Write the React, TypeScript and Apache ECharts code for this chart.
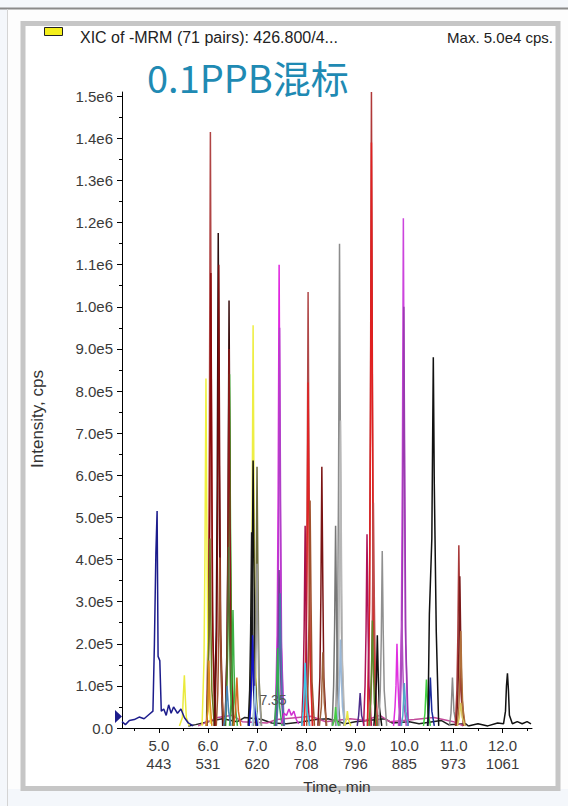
import React, { useEffect, useRef } from "react";
import * as echarts from "echarts";

type Pt = [number, number];

// ---- axis labels ----
const timeLabels = [5, 6, 7, 8, 9, 10, 11, 12];
const scanLabels = ["443", "531", "620", "708", "796", "885", "973", "1061"];
const timeHalfTicks = [4.5, 5.5, 6.5, 7.5, 8.5, 9.5, 10.5, 11.5, 12.5];
const intensityTicks = [0, 1, 2, 3, 4, 5, 6, 7, 8, 9, 10, 11, 12, 13, 14, 15]; // x 1e5 cps
const intensityHalfTicks = [0.5, 1.5, 2.5, 3.5, 4.5, 5.5, 6.5, 7.5, 8.5, 9.5, 10.5, 11.5, 12.5, 13.5, 14.5];

// ---- traces: [time (min), intensity (1e5 cps)] ----
const navyA: Pt[] = [[4.25,0.15],[4.32,0.08],[4.4,0.18],[4.5,0.2],[4.6,0.26],[4.7,0.22],[4.8,0.32],[4.88,0.4],[4.91,2.0],[4.94,4.15],[4.965,5.15],[4.985,1.7],[5.02,1.6],[5.05,0.4],[5.1,0.45],[5.15,0.3],[5.2,0.55],[5.25,0.35],[5.3,0.5],[5.38,0.35],[5.45,0.45],[5.52,0.25],[5.6,0.12],[5.7,0.05]];
const yellowSmall: Pt[] = [[5.42,0.05],[5.48,0.25],[5.5,0.8],[5.52,1.25],[5.54,0.7],[5.56,0.25],[5.62,0.05]];
const yellowA: Pt[] = [[5.88,0.05],[5.92,1.6],[5.94,4.2],[5.96,8.3],[5.98,4.5],[6.0,1.7],[6.05,0.1]];
const brownRedA: Pt[] = [[5.97,0.05],[6.01,2.8],[6.03,7.1],[6.05,14.15],[6.07,7.8],[6.09,2.8],[6.14,0.05]];
const darkRedA: Pt[] = [[5.98,0.05],[6.02,2.2],[6.04,5.4],[6.06,10.8],[6.08,5.9],[6.1,2.2],[6.15,0.05]];
const oliveA: Pt[] = [[5.97,0.05],[6.0,0.9],[6.02,2.3],[6.04,4.5],[6.06,2.5],[6.08,0.9],[6.13,0.05]];
const orangeA: Pt[] = [[5.96,0.05],[6.0,0.4],[6.02,1.6],[6.04,0.7],[6.08,0.05]];
const blackA: Pt[] = [[6.13,0.05],[6.17,2.4],[6.19,5.9],[6.21,11.75],[6.23,6.5],[6.25,2.4],[6.3,0.05]];
const maroonA: Pt[] = [[6.14,0.05],[6.18,2.2],[6.2,5.5],[6.22,11.0],[6.24,6.0],[6.26,2.2],[6.31,0.05]];
const brownA: Pt[] = [[6.17,0.05],[6.2,0.8],[6.22,2.0],[6.24,4.05],[6.26,2.2],[6.28,0.8],[6.33,0.05]];
const darkA: Pt[] = [[6.35,0.05],[6.39,2.0],[6.41,5.1],[6.43,10.15],[6.45,5.6],[6.47,2.0],[6.52,0.05]];
const greenA: Pt[] = [[6.36,0.05],[6.4,1.7],[6.42,4.2],[6.44,8.4],[6.46,4.6],[6.48,1.7],[6.53,0.05]];
const darkRedB: Pt[] = [[6.35,0.05],[6.39,1.8],[6.41,4.5],[6.43,9.0],[6.45,5.0],[6.47,1.8],[6.52,0.05]];
const darkOliveA: Pt[] = [[6.35,0.05],[6.38,0.9],[6.4,2.2],[6.42,4.3],[6.44,2.4],[6.46,0.9],[6.51,0.05]];
const greenB: Pt[] = [[6.44,0.05],[6.47,0.6],[6.49,1.4],[6.51,2.8],[6.53,1.5],[6.55,0.6],[6.6,0.05]];
const steelA: Pt[] = [[6.32,0.05],[6.36,0.3],[6.39,1.0],[6.42,0.4],[6.47,0.05]];
const orangeB: Pt[] = [[6.52,0.05],[6.56,0.35],[6.59,1.2],[6.62,0.4],[6.67,0.05]];
const yellowB: Pt[] = [[6.84,0.05],[6.88,1.9],[6.9,4.8],[6.92,9.56],[6.94,5.2],[6.96,1.9],[7.01,0.05]];
const blackB: Pt[] = [[6.84,0.05],[6.88,1.3],[6.9,3.2],[6.92,6.35],[6.94,3.5],[6.96,1.3],[7.01,0.05]];
const oliveB: Pt[] = [[6.92,0.05],[6.96,1.2],[6.98,3.1],[7.0,6.2],[7.02,3.4],[7.04,1.2],[7.09,0.05]];
const blackC: Pt[] = [[6.82,0.05],[6.85,0.9],[6.87,2.3],[6.89,4.65],[6.91,2.6],[6.93,0.9],[6.98,0.05]];
const grayA: Pt[] = [[6.93,0.05],[6.96,0.8],[6.98,2.0],[7.0,3.9],[7.02,2.1],[7.04,0.8],[7.09,0.05]];
const blueA: Pt[] = [[6.84,0.05],[6.87,0.5],[6.89,1.1],[6.91,2.2],[6.93,1.2],[6.95,0.5],[7.0,0.05]];
const lightBlueA: Pt[] = [[6.9,0.05],[6.93,0.3],[6.96,1.0],[6.99,0.4],[7.04,0.05]];
const magentaA: Pt[] = [[7.37,0.05],[7.41,2.2],[7.43,5.5],[7.45,11.0],[7.47,6.0],[7.49,2.2],[7.54,0.05]];
const purpleA: Pt[] = [[7.38,0.05],[7.42,1.9],[7.44,4.8],[7.46,9.5],[7.48,5.2],[7.5,1.9],[7.55,0.05]];
const purpleB: Pt[] = [[7.38,0.05],[7.41,0.8],[7.43,1.9],[7.45,3.75],[7.47,2.0],[7.49,0.8],[7.54,0.05]];
const steelB: Pt[] = [[7.4,0.05],[7.43,0.7],[7.45,1.6],[7.47,3.2],[7.49,1.7],[7.51,0.7],[7.56,0.05]];
const greenC: Pt[] = [[7.35,0.05],[7.38,0.5],[7.4,1.0],[7.42,1.9],[7.44,1.0],[7.46,0.5],[7.51,0.05]];
const magentaNoise: Pt[] = [[7.5,0.1],[7.55,0.35],[7.6,0.3],[7.65,0.45],[7.7,0.3],[7.75,0.4],[7.8,0.2],[7.85,0.1]];
const crimsonA: Pt[] = [[7.91,0.05],[7.94,1.0],[7.96,2.4],[7.98,4.8],[8.0,2.6],[8.02,1.0],[8.07,0.05]];
const brownRedB: Pt[] = [[7.96,0.05],[8.0,2.1],[8.02,5.2],[8.04,10.35],[8.06,5.7],[8.08,2.1],[8.13,0.05]];
const redA: Pt[] = [[7.96,0.05],[8.0,1.6],[8.02,4.1],[8.04,8.2],[8.06,4.5],[8.08,1.6],[8.13,0.05]];
const brownB: Pt[] = [[8.01,0.05],[8.04,1.1],[8.06,2.7],[8.08,5.4],[8.1,3.0],[8.12,1.1],[8.17,0.05]];
const cyanA: Pt[] = [[7.91,0.05],[7.94,0.4],[7.96,0.8],[7.98,1.55],[8.0,0.8],[8.02,0.4],[8.07,0.05]];
const maroonB: Pt[] = [[8.24,0.05],[8.28,1.2],[8.3,3.1],[8.32,6.2],[8.34,3.4],[8.36,1.2],[8.41,0.05]];
const brownC: Pt[] = [[8.27,0.05],[8.31,0.5],[8.34,1.8],[8.37,0.6],[8.42,0.05]];
const grayB: Pt[] = [[8.6,0.05],[8.64,2.3],[8.66,5.8],[8.68,11.5],[8.7,6.3],[8.72,2.3],[8.77,0.05]];
const grayC: Pt[] = [[8.62,0.05],[8.66,1.5],[8.68,3.7],[8.7,7.3],[8.72,4.0],[8.74,1.5],[8.79,0.05]];
const grayD: Pt[] = [[8.53,0.05],[8.56,1.0],[8.58,2.4],[8.6,4.8],[8.62,2.6],[8.64,1.0],[8.69,0.05]];
const lightSteelA: Pt[] = [[8.63,0.05],[8.66,0.5],[8.68,1.1],[8.7,2.1],[8.72,1.1],[8.74,0.5],[8.79,0.05]];
const greenD: Pt[] = [[8.54,0.05],[8.58,0.2],[8.6,0.5],[8.62,0.2],[8.67,0.05]];
const yellowC: Pt[] = [[8.78,0.05],[8.82,0.2],[8.84,0.4],[8.86,0.2],[8.91,0.05]];
const purpleNavy: Pt[] = [[9.04,0.05],[9.07,0.3],[9.1,0.83],[9.13,0.3],[9.18,0.05]];
const crimsonB: Pt[] = [[9.17,0.05],[9.2,1.0],[9.22,2.3],[9.24,4.6],[9.26,2.5],[9.28,1.0],[9.33,0.05]];
const brownRedC: Pt[] = [[9.25,0.05],[9.29,3.0],[9.31,7.6],[9.33,15.1],[9.35,8.3],[9.37,3.0],[9.42,0.05]];
const redB: Pt[] = [[9.25,0.05],[9.29,2.8],[9.31,7.0],[9.33,13.9],[9.35,7.6],[9.37,2.8],[9.42,0.05]];
const redBrownD: Pt[] = [[9.3,0.05],[9.33,1.1],[9.35,2.7],[9.37,5.35],[9.39,2.9],[9.41,1.1],[9.46,0.05]];
const oliveGreen: Pt[] = [[9.28,0.05],[9.31,0.6],[9.33,1.3],[9.35,2.55],[9.37,1.4],[9.39,0.6],[9.44,0.05]];
const blackD: Pt[] = [[9.38,0.05],[9.41,0.5],[9.43,1.1],[9.45,2.2],[9.47,1.2],[9.49,0.5],[9.54,0.05]];
const grayE: Pt[] = [[9.48,0.05],[9.51,0.9],[9.53,2.1],[9.55,4.2],[9.57,2.3],[9.59,0.9],[9.64,0.05]];
const magentaB: Pt[] = [[9.78,0.05],[9.81,0.5],[9.83,1.0],[9.85,2.0],[9.87,1.1],[9.89,0.5],[9.94,0.05]];
const violetA: Pt[] = [[9.9,0.05],[9.94,2.4],[9.96,6.1],[9.98,12.1],[10.0,6.6],[10.02,2.4],[10.07,0.05]];
const purpleC: Pt[] = [[9.91,0.05],[9.95,2.0],[9.97,5.0],[9.99,10.0],[10.01,5.5],[10.03,2.0],[10.08,0.05]];
const violetB: Pt[] = [[9.88,0.05],[9.91,0.6],[9.93,1.3],[9.95,2.55],[9.97,1.4],[9.99,0.6],[10.04,0.05]];
const cyanB: Pt[] = [[9.94,0.05],[9.97,0.3],[10.0,1.07],[10.03,0.4],[10.08,0.05]];
const greenE: Pt[] = [[10.39,0.05],[10.42,0.35],[10.45,1.15],[10.48,0.4],[10.53,0.05]];
const navyB: Pt[] = [[10.47,0.05],[10.5,0.35],[10.53,1.2],[10.56,0.4],[10.61,0.05]];
const blackE: Pt[] = [[10.48,0.05],[10.51,2.7],[10.56,4.5],[10.59,8.8],[10.61,5.8],[10.65,2.3],[10.7,0.05]];
const grayF: Pt[] = [[10.92,0.05],[10.95,0.35],[10.98,1.2],[11.01,0.4],[11.06,0.05]];
const brownRedE: Pt[] = [[11.04,0.05],[11.07,0.9],[11.09,2.2],[11.11,4.34],[11.13,2.4],[11.15,0.9],[11.2,0.05]];
const darkRedC: Pt[] = [[11.06,0.05],[11.09,0.8],[11.11,1.8],[11.13,3.6],[11.15,2.0],[11.17,0.8],[11.22,0.05]];
const brownD: Pt[] = [[11.08,0.05],[11.11,0.5],[11.13,1.2],[11.15,2.3],[11.17,1.2],[11.19,0.5],[11.24,0.05]];
const tanA: Pt[] = [[11.08,0.05],[11.12,0.25],[11.15,0.6],[11.18,0.25],[11.23,0.05]];
const blackF: Pt[] = [[11.3,0.05],[11.5,0.1],[11.7,0.05],[11.9,0.12],[12.02,0.1],[12.06,0.4],[12.08,1.0],[12.1,1.3],[12.12,0.9],[12.14,0.3],[12.2,0.1],[12.3,0.15],[12.4,0.1],[12.5,0.15],[12.58,0.1]];
const blackBaseline: Pt[] = [[5.6,0.05],[5.75,0.08],[5.9,0.12],[6.1,0.18],[6.3,0.22],[6.6,0.15],[6.75,0.25],[7.1,0.2],[7.3,0.12],[7.6,0.1],[7.9,0.14],[8.2,0.2],[8.45,0.22],[8.8,0.1],[9.0,0.15],[9.6,0.22],[9.75,0.12],[10.1,0.15],[10.3,0.1],[10.75,0.18],[10.9,0.08],[11.25,0.1],[11.3,0.05]];
const colourBaseline: Pt[] = [[5.8,0.05],[6.0,0.15],[6.2,0.25],[6.5,0.3],[6.7,0.15],[7.2,0.12],[7.4,0.2],[8.1,0.28],[8.4,0.15],[8.9,0.22],[9.2,0.18],[9.5,0.3],[9.7,0.15],[10.2,0.2],[10.6,0.25],[11.0,0.15],[11.2,0.05]];

const traces: { data: Pt[]; color: string }[] = [
  { data: blackBaseline, color: "#222222" },
  { data: colourBaseline, color: "#c24a9a" },
  { data: brownRedA, color: "#b04444" },
  { data: darkRedA, color: "#8b0a0a" },
  { data: yellowA, color: "#f0f040" },
  { data: oliveA, color: "#6b7b20" },
  { data: orangeA, color: "#e08a20" },
  { data: blackA, color: "#2a1010" },
  { data: maroonA, color: "#7a0c0c" },
  { data: brownA, color: "#a0522d" },
  { data: darkA, color: "#3a1010" },
  { data: greenA, color: "#22cc22" },
  { data: darkRedB, color: "#8b1a1a" },
  { data: darkOliveA, color: "#556b2f" },
  { data: greenB, color: "#3cb043" },
  { data: steelA, color: "#4682b4" },
  { data: orangeB, color: "#d2691e" },
  { data: yellowB, color: "#eeee44" },
  { data: blackB, color: "#111111" },
  { data: oliveB, color: "#6b6b3a" },
  { data: blackC, color: "#1a1a1a" },
  { data: grayA, color: "#999999" },
  { data: blueA, color: "#1515c8" },
  { data: lightBlueA, color: "#a8d0e8" },
  { data: magentaA, color: "#e026e0" },
  { data: purpleA, color: "#b040c8" },
  { data: purpleB, color: "#7a3a9a" },
  { data: steelB, color: "#4a78a8" },
  { data: greenC, color: "#30b050" },
  { data: magentaNoise, color: "#d030d0" },
  { data: brownRedB, color: "#b04848" },
  { data: redA, color: "#e02424" },
  { data: crimsonA, color: "#a8124a" },
  { data: brownB, color: "#a0522d" },
  { data: cyanA, color: "#3cc8e8" },
  { data: maroonB, color: "#7b1414" },
  { data: brownC, color: "#a0623d" },
  { data: grayB, color: "#8c8c8c" },
  { data: grayC, color: "#b8b8b8" },
  { data: grayD, color: "#777777" },
  { data: lightSteelA, color: "#9ab8d8" },
  { data: greenD, color: "#44cc44" },
  { data: yellowC, color: "#e8e840" },
  { data: purpleNavy, color: "#4b2c8a" },
  { data: brownRedC, color: "#b03838" },
  { data: redB, color: "#e02020" },
  { data: crimsonB, color: "#b0145a" },
  { data: redBrownD, color: "#c04a4a" },
  { data: oliveGreen, color: "#5a8a2a" },
  { data: blackD, color: "#111111" },
  { data: grayE, color: "#909090" },
  { data: magentaB, color: "#e030e0" },
  { data: violetA, color: "#cc44dd" },
  { data: purpleC, color: "#9a3ab0" },
  { data: violetB, color: "#b050c0" },
  { data: cyanB, color: "#50a8c8" },
  { data: greenE, color: "#40d040" },
  { data: navyB, color: "#1a2a9a" },
  { data: blackE, color: "#111111" },
  { data: grayF, color: "#8a8a8a" },
  { data: brownRedE, color: "#a83a3a" },
  { data: darkRedC, color: "#7a1a1a" },
  { data: brownD, color: "#b0703a" },
  { data: tanA, color: "#d8c860" },
  { data: blackF, color: "#111111" },
  { data: yellowSmall, color: "#eaea3c" },
  { data: navyA, color: "#1c1c8c" },
];

const FONT = "'Liberation Sans', Arial, sans-serif";

function fmtIntensity(v: number): string {
  if (intensityTicks.every((t) => Math.abs(t - v) > 1e-6)) return "";
  if (v === 0) return "0.0";
  if (v >= 10) return (v / 10).toFixed(1) + "e6";
  return v.toFixed(1) + "e5";
}

function fmtTime(v: number): string {
  const i = timeLabels.findIndex((t) => Math.abs(t - v) < 1e-6);
  if (i < 0) return "";
  return v.toFixed(1) + "\n" + scanLabels[i];
}

export default function App() {
  const ref = useRef<HTMLDivElement>(null);
  useEffect(() => {
    if (!ref.current) return;
    const chart = echarts.init(ref.current, undefined, { renderer: "svg" });
    const option: any = {
      animation: false,
      backgroundColor: "#f4f7fb",
      grid: { left: 122, right: 36, top: 92, bottom: 78, containLabel: false },
      xAxis: [
        {
          type: "value",
          min: 4.25,
          max: 12.6,
          interval: 0.25,
          axisLine: { show: true, onZero: false, lineStyle: { color: "#000", width: 1 } },
          axisTick: { show: true, customValues: timeLabels, length: 5, lineStyle: { color: "#000" } },
          axisLabel: {
            customValues: timeLabels,
            formatter: fmtTime,
            fontSize: 15,
            lineHeight: 18,
            margin: 8,
            color: "#3a3a3a",
            fontFamily: FONT,
          },
          splitLine: { show: false },
        },
        {
          type: "value",
          min: 4.25,
          max: 12.6,
          interval: 0.25,
          position: "bottom",
          axisLine: { show: false },
          axisTick: { show: true, customValues: timeHalfTicks, length: 3, lineStyle: { color: "#000" } },
          axisLabel: { show: false },
          splitLine: { show: false },
        },
      ],
      yAxis: [
        {
          type: "value",
          min: 0,
          max: 15.1,
          interval: 1,
          axisLine: { show: true, lineStyle: { color: "#000", width: 1 } },
          axisTick: { show: true, customValues: intensityTicks, length: 5, lineStyle: { color: "#000" } },
          axisLabel: {
            customValues: intensityTicks,
            formatter: fmtIntensity,
            fontSize: 15,
            margin: 9,
            color: "#3a3a3a",
            fontFamily: FONT,
          },
          splitLine: { show: false },
        },
        {
          type: "value",
          min: 0,
          max: 15.1,
          interval: 0.5,
          position: "left",
          axisLine: { show: false },
          axisTick: { show: true, customValues: intensityHalfTicks, length: 3, lineStyle: { color: "#000" } },
          axisLabel: { show: false },
          splitLine: { show: false },
        },
      ],
      series: traces.map((t, i) => ({
        type: "line",
        name: "t" + i,
        xAxisIndex: 0,
        yAxisIndex: 0,
        data: t.data,
        showSymbol: false,
        symbol: "none",
        silent: true,
        clip: false,
        z: 3,
        lineStyle: { color: t.color, width: 1.5 },
      })),
      graphic: [
        { type: "rect", z: -10, shape: { x: 0, y: 8, width: 568, height: 798 }, style: { fill: "#f4f7fb" }, silent: true },
        { type: "rect", z: -9, shape: { x: 7, y: 9, width: 561, height: 780 }, style: { fill: "#fdfdfd" }, silent: true },
        { type: "line", z: -8, shape: { x1: 0, y1: 8.5, x2: 568, y2: 8.5 }, style: { stroke: "#8a8a8a", lineWidth: 2 }, silent: true },
        { type: "line", z: -8, shape: { x1: 7.5, y1: 9, x2: 7.5, y2: 806 }, style: { stroke: "#d4d4d4", lineWidth: 1 }, silent: true },
        { type: "rect", z: -7, shape: { x: 23, y: 23.5, width: 535, height: 765 }, style: { fill: "#ffffff", stroke: "#c6c6c6", lineWidth: 5 }, silent: true },
        { type: "rect", shape: { x: 44.5, y: 27.5, width: 18, height: 8 }, style: { fill: "#f4ef1c", stroke: "#222", lineWidth: 1 }, silent: true },
        { type: "text", x: 80, y: 37, style: { text: "XIC of -MRM (71 pairs): 426.800/4...", font: `16px ${FONT}`, fill: "#222", textVerticalAlign: "middle" }, silent: true },
        { type: "text", x: 553, y: 37, style: { text: "Max. 5.0e4 cps.", font: `15px ${FONT}`, fill: "#222", textAlign: "right", textVerticalAlign: "middle" }, silent: true },
        { type: "text", x: 147, y: 76, style: { text: "0.1PPB混标", font: `38px 'Noto Sans CJK SC', 'Noto Sans', sans-serif`, fill: "#1f8ab3", textVerticalAlign: "middle" }, silent: true },
        { type: "text", x: 337, y: 786, style: { text: "Time, min", font: `15.5px ${FONT}`, fill: "#333", textAlign: "center", textVerticalAlign: "middle" }, silent: true },
        { type: "text", x: 37, y: 419, rotation: Math.PI / 2, style: { text: "Intensity, cps", font: `17px ${FONT}`, fill: "#333", textAlign: "center", textVerticalAlign: "middle" }, silent: true },
        { type: "text", x: 273, y: 700, z: 10, style: { text: "7.35", font: `14px ${FONT}`, fill: "#555", textAlign: "center", textVerticalAlign: "middle" }, silent: true },
        { type: "polygon", z: 10, shape: { points: [[115, 710], [122, 716.5], [115, 723]] }, style: { fill: "#1c1c8c" }, silent: true },
      ],
    };
    chart.setOption(option);
    return () => chart.dispose();
  }, []);
  return (
    <div
      ref={ref}
      style={{ position: "fixed", left: 0, top: 0, width: 568, height: 806 }}
    />
  );
}
